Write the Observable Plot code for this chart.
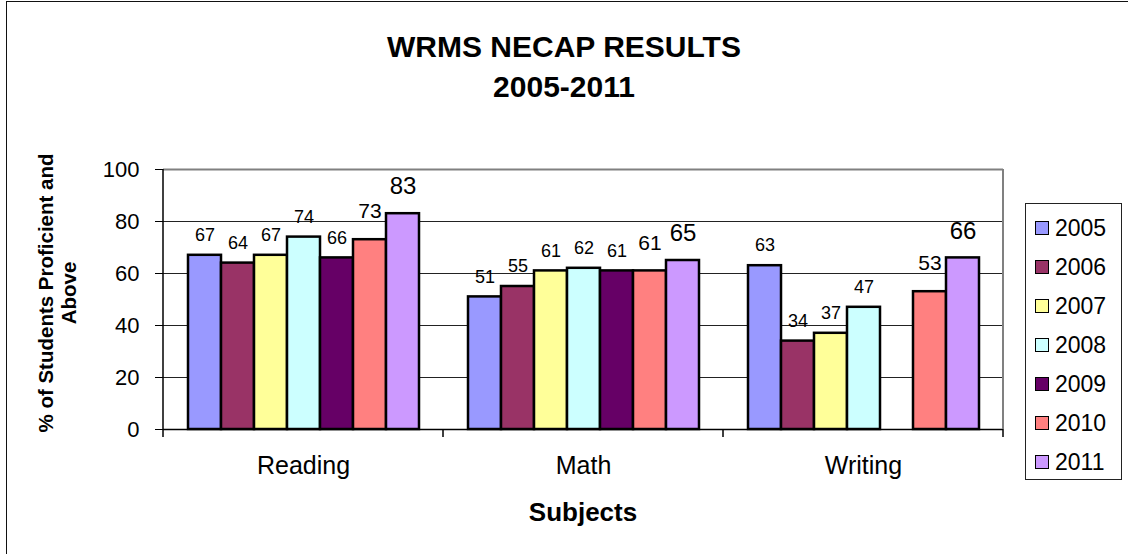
<!DOCTYPE html>
<html>
<head>
<meta charset="utf-8">
<script src="https://cdn.jsdelivr.net/npm/d3@7"></script>
<script src="https://cdn.jsdelivr.net/npm/@observablehq/plot@0.6"></script>
<style>
  html, body { margin: 0; padding: 0; background: #fff; }
  #wrap { position: relative; width: 1128px; height: 554px; overflow: hidden; font-family: "Liberation Sans", Arial, sans-serif; color: #000; }
  #wrap svg { position: absolute; left: 0; top: 0; }
  .ov { position: absolute; }
  #border { left: 6px; top: 1px; width: 1200px; height: 700px; border: 1.5px solid #111; box-sizing: border-box; }
  #title { left: 0; width: 1128px; top: 27px; text-align: center; font-weight: bold; font-size: 30px; line-height: 40px; }
  #ytitle { width: 400px; height: 46px; left: -143px; top: 270px; transform: rotate(-90deg); transform-origin: 50% 50%; text-align: center; font-weight: bold; font-size: 20.5px; line-height: 23px; }
  #xtitle { left: 383px; width: 400px; top: 497px; text-align: center; font-weight: bold; font-size: 26px; line-height: 30px; }
  #legend { left: 1025px; top: 203px; width: 97px; height: 277px; border: 1px solid #222; box-sizing: border-box; background: #fff; }
  .li { position: absolute; left: 9px; height: 30px; display: flex; align-items: center; font-size: 23px; }
  .sw { width: 14px; height: 14px; border: 1.5px solid #000; margin-right: 6px; box-sizing: border-box; }
</style>
</head>
<body>
<div id="wrap"></div>
<script>
// ---- data ----
const subjects = ["Reading", "Math", "Writing"];
const years = ["2005", "2006", "2007", "2008", "2009", "2010", "2011"];
const colors = ["#9999FF", "#993366", "#FFFF99", "#CCFFFF", "#660066", "#FF8080", "#CC99FF"];
const reading = [67, 64, 67, 74, 66, 73, 83];
const math = [51, 55, 61, 62, 61, 61, 65];
const writing = [63, 34, 37, 47, null, 53, 66];
const yTicks = [0, 20, 40, 60, 80, 100];
const titleLines = ["WRMS NECAP RESULTS", "2005-2011"];
const yTitleLines = ["% of Students Proficient and", "Above"];
const xTitle = "Subjects";

const series = {Reading: reading, Math: math, Writing: writing};
const data = [];
for (const s of subjects) {
  series[s].forEach((v, i) => {
    if (v != null) data.push({subject: s, year: years[i], value: v});
  });
}
const small = data.filter(d => d.year !== "2010" && d.year !== "2011");
const d2010 = data.filter(d => d.year === "2010");
const d2011 = data.filter(d => d.year === "2011");

const chart = Plot.plot({
  width: 1128,
  height: 554,
  marginLeft: 162,
  marginRight: 124,
  marginTop: 169,
  marginBottom: 125,
  style: {fontFamily: "'Liberation Sans', Arial, sans-serif", background: "transparent", color: "#000", overflow: "visible"},
  fx: {domain: subjects, padding: 0, label: null},
  x: {domain: years, paddingInner: 0, paddingOuter: 0.735, axis: null},
  y: {domain: [0, 100], label: null},
  color: {domain: years, range: colors},
  marks: [
    Plot.ruleY([20, 40, 60, 80], {stroke: "#222", strokeWidth: 1}),
    Plot.ruleY([100], {stroke: "#808080", strokeWidth: 2}),
    Plot.barY(data, {fx: "subject", x: "year", y: "value", fill: "year", stroke: "#000", strokeWidth: 2.5}),
    Plot.text(small, {fx: "subject", x: "year", y: "value", text: d => String(d.value), dy: -20, fontSize: 18, fontFamily: "'Liberation Sans', Arial, sans-serif", fill: "#000"}),
    Plot.text(d2010, {fx: "subject", x: "year", y: "value", text: d => String(d.value), dy: -28, fontSize: 21, fill: "#000"}),
    Plot.text(d2011, {fx: "subject", x: "year", y: "value", text: d => String(d.value), dy: -27, fontSize: 24, fill: "#000"}),
    Plot.ruleY([0], {stroke: "#000", strokeWidth: 1.5}),
    Plot.axisY({ticks: yTicks, tickSize: 8, tickPadding: 16, fontSize: 22, label: null, stroke: "#000"}),
    Plot.axisFx({anchor: "bottom", tickSize: 0, tickPadding: 27, fontSize: 25, label: null})
  ]
});

// frame lines drawn from the plot's own scales
const fx = chart.scale("fx");
const ys = chart.scale("y");
const left = fx.apply(subjects[0]);
const right = fx.apply(subjects[subjects.length - 1]) + fx.bandwidth;
const y0 = ys.apply(0), y100 = ys.apply(100);
const g = d3.select(chart).append("g");
g.append("line").attr("x1", right).attr("x2", right).attr("y1", y100).attr("y2", y0)
  .attr("stroke", "#808080").attr("stroke-width", 2);
g.append("line").attr("x1", left).attr("x2", left).attr("y1", y100).attr("y2", y0)
  .attr("stroke", "#000").attr("stroke-width", 1.5);
const edges = subjects.map(s => fx.apply(s)).concat([right]);
for (const ex of edges) {
  g.append("line").attr("x1", ex).attr("x2", ex).attr("y1", y0).attr("y2", y0 + 8)
    .attr("stroke", "#000").attr("stroke-width", 1.5);
}

const wrap = document.getElementById("wrap");
wrap.appendChild(chart);

function ov(id, html) {
  const d = document.createElement("div");
  d.className = "ov"; d.id = id; d.innerHTML = html;
  wrap.appendChild(d);
  return d;
}
ov("border", "");
ov("title", titleLines.join("<br>"));
ov("ytitle", yTitleLines.join("<br>"));
ov("xtitle", xTitle);
const lg = ov("legend", "");
years.forEach((yr, i) => {
  const it = document.createElement("div");
  it.className = "li";
  it.style.top = (9 + i * 39) + "px";
  it.innerHTML = `<div class="sw" style="background:${colors[i]}"></div><span>${yr}</span>`;
  lg.appendChild(it);
});
</script>
</body>
</html>
